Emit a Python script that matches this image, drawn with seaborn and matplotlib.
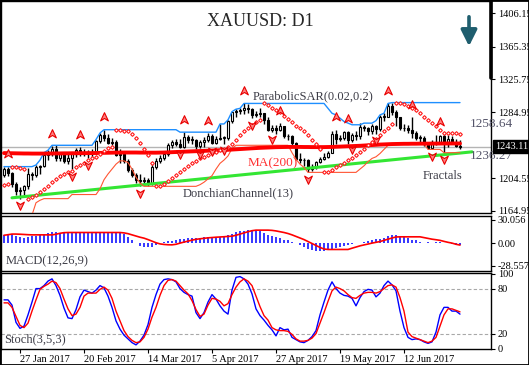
import numpy as np
import pandas as pd
import seaborn as sns
import matplotlib.pyplot as plt
from matplotlib.path import Path
from matplotlib.lines import Line2D
from matplotlib.patches import Rectangle
from matplotlib.transforms import blended_transform_factory

sns.set_style('white')
plt.rcParams['font.family'] = ['Liberation Serif', 'DejaVu Serif']

# daily bars, 23 Jan - 30 Jun 2017
dates = pd.bdate_range('2017-01-23', periods=115)

opens = [1209,1216,1211,1198,1189,1190,1195,1210,1209,1218,
         1220,1233,1236,1241,1229,1234,1226,1229,1234,1239,
         1236,1234,1237,1236,1250,1257,1254,1248,1249,1233,
         1234,1226,1215,1209,1203,1201,1203,1199,1219,1226,
         1229,1234,1245,1249,1247,1243,1255,1252,1252,1244,
         1249,1252,1256,1248,1253,1254,1254,1274,1285,1287,
         1288,1290,1289,1282,1283,1284,1276,1264,1266,1264,
         1268,1256,1256,1248,1228,1227,1227,1216,1219,1225,
         1228,1231,1236,1259,1253,1254,1261,1251,1258,1256,
         1267,1266,1262,1268,1265,1280,1280,1293,1286,1279,
         1266,1266,1264,1260,1254,1254,1246,1242,1247,1249,
         1256,1246,1253,1249,1244]
highs = [1218,1219,1212,1200,1194,1197,1217,1212,1221,1221,
         1236,1239,1244,1245,1237,1236,1234,1236,1242,1243,
         1240,1239,1241,1252,1260,1264,1259,1254,1251,1241,
         1237,1228,1217,1211,1210,1206,1205,1222,1230,1233,
         1236,1248,1252,1253,1253,1261,1258,1256,1253,1252,
         1255,1260,1259,1256,1271,1256,1276,1286,1289,1290,
         1296,1295,1291,1287,1290,1284,1279,1270,1270,1272,
         1268,1259,1258,1249,1235,1229,1228,1222,1226,1231,
         1236,1238,1262,1264,1258,1263,1262,1260,1262,1272,
         1270,1267,1271,1270,1282,1284,1296,1297,1288,1280,
         1271,1270,1279,1262,1257,1256,1249,1251,1257,1258,
         1259,1257,1256,1253,1251]
lows = [1206,1208,1194,1184,1180,1185,1192,1203,1206,1210,
        1219,1227,1232,1226,1226,1224,1222,1216,1231,1232,
        1232,1229,1231,1234,1248,1250,1246,1245,1232,1224,
        1223,1212,1206,1199,1195,1198,1195,1197,1216,1223,
        1227,1232,1242,1244,1242,1242,1248,1247,1241,1242,
        1243,1249,1246,1246,1251,1247,1252,1272,1280,1283,
        1283,1284,1278,1279,1280,1271,1262,1261,1259,1263,
        1254,1252,1245,1227,1223,1220,1212,1214,1216,1223,
        1227,1229,1235,1246,1250,1252,1247,1249,1251,1253,
        1263,1258,1259,1259,1262,1275,1279,1282,1268,1264,
        1262,1260,1254,1251,1249,1244,1241,1240,1245,1248,
        1236,1243,1246,1243,1240]
closes = [1216,1211,1198,1189,1190,1195,1210,1209,1218,1220,
          1233,1236,1241,1229,1234,1226,1229,1234,1239,1236,
          1234,1237,1236,1250,1257,1254,1248,1249,1233,1234,
          1226,1215,1209,1203,1201,1203,1199,1219,1226,1229,
          1234,1245,1249,1247,1243,1255,1252,1252,1244,1249,
          1252,1256,1248,1253,1254,1254,1274,1285,1287,1288,
          1290,1289,1282,1283,1284,1276,1264,1266,1264,1268,
          1256,1256,1248,1228,1227,1227,1216,1219,1225,1228,
          1231,1236,1259,1253,1254,1261,1251,1258,1256,1267,
          1266,1262,1268,1265,1280,1280,1293,1286,1279,1266,
          1266,1264,1260,1254,1254,1246,1242,1247,1249,1256,
          1246,1253,1249,1244,1243.11]

ma200 = [1235.5,1235.4,1235.3,1235.2,1235.1,1235.0,1235.0,1234.9,1234.9,1234.9,
         1234.9,1235.0,1235.0,1235.1,1235.1,1235.2,1235.2,1235.3,1235.3,1235.4,
         1235.4,1235.5,1235.5,1235.6,1235.7,1235.8,1235.9,1236.0,1236.1,1236.1,
         1236.2,1236.2,1236.2,1236.2,1236.1,1236.1,1236.0,1236.0,1236.0,1236.1,
         1236.2,1236.4,1236.6,1236.8,1237.0,1237.2,1237.4,1237.6,1237.8,1238.0,
         1238.2,1238.4,1238.6,1238.8,1239.0,1239.2,1239.5,1239.8,1240.1,1240.4,
         1240.7,1241.0,1241.3,1241.6,1241.9,1242.1,1242.3,1242.5,1242.7,1242.8,
         1242.9,1243.0,1243.0,1243.0,1243.0,1242.9,1242.9,1242.8,1242.8,1242.8,
         1242.8,1242.9,1243.0,1243.2,1243.4,1243.6,1243.8,1244.0,1244.2,1244.4,
         1244.7,1245.0,1245.3,1245.6,1245.9,1246.1,1246.3,1246.5,1246.6,1246.7,
         1246.8,1246.8,1246.9,1246.9,1247.0,1247.0,1247.0,1247.1,1247.1,1247.1,
         1247.2,1247.2,1247.2,1247.2,1247.2]

sar = [1197,1198,1219,1218,1217,1216,1180,1182,1185,1188,
       1192,1196,1200,1204,1207,1210,1212,1214,1218,1221,
       1224,1227,1229,1231,1234,1238,1242,1243,1264,1264,
       1263,1262,1259,1254,1248,1240,1233,1224,1195,1196,
       1198,1201,1205,1209,1213,1216,1220,1223,1226,1229,
       1231,1233,1235,1237,1239,1241,1243,1247,1252,1257,
       1262,1266,1270,1273,1276,1296,1294,1291,1288,1285,
       1281,1277,1273,1269,1266,1262,1257,1252,1246,1240,
       1212,1213,1215,1218,1221,1224,1227,1230,1233,1237,
       1241,1245,1249,1253,1257,1262,1266,1271,1297,1296,
       1295,1293,1291,1288,1284,1280,1276,1272,1268,1264,
       1260,1260,1260,1260,1259]

don_upper = ([1219] * 8 + [1221, 1227, 1236, 1239] + [1245] * 11 + [1252, 1260]
             + [1264] * 19 + [1261] * 10 + [1271, 1271, 1276, 1286, 1289, 1290]
             + [1296] * 21
             + [1290, 1284, 1282, 1278, 1274, 1272, 1270, 1270, 1270, 1272, 1272,
                1272, 1275, 1282, 1284, 1296]
             + [1297] * 18)
don_lower = ([1150] * 7 + [1160, 1175, 1178] + [1180] * 7 + [1185] * 7
             + [1192, 1203, 1210, 1216, 1222, 1226, 1226, 1224, 1216, 1206, 1199]
             + [1195] * 14 + [1197, 1200, 1204, 1208, 1216, 1223, 1227, 1232, 1241]
             + [1245] * 14 + [1236, 1228, 1222, 1218] + [1212] * 13
             + [1216, 1220, 1225, 1229, 1231, 1235, 1240, 1245]
             + [1247] * 9 + [1240] * 4 + [1236] * 5)

fractal_up = [1, 12, 19, 25, 45, 51, 60, 69, 83, 86, 96, 102, 109]
fractal_dn = [4, 17, 21, 34, 44, 49, 52, 55, 62, 67, 76, 87, 93, 107, 110]

trend_idx = [2, 117]
trend_val = [1181, 1237]

macd_hist = [11,11,12,10,8.5,7.6,8.5,9.3,10,11,
             12,13,14,14,13,14.5,14.8,15,15,15,
             15,15,15,15,15,15,14.8,14.5,14.2,13.5,
             12,8.5,4,1,-3,-4,-5,-4,-2,1,
             2,3.4,3.4,4.2,5.5,5.5,6.8,6.8,7.6,7.6,
             8.5,8.5,7.6,8.5,8.5,9.3,11,12.7,14,15.5,
             16.5,17,17,16,16,13.6,11.4,9.3,8.5,7.6,
             5,4.2,2,1,-2,-4.2,-6.4,-8.5,-9.3,-9.3,
             -9.3,-7.6,-6.8,-6,-4.2,-3.4,-2.5,-1,0,0.8,
             2,3.4,4.2,5.5,6,7.6,9.3,10.6,10.6,9.7,
             8.5,6.8,5,4.2,2.5,0,1.7,1,1.7,1.3,
             0.8,0,-1,-1.7,-2.5]
macd_sig = [10.5,11.2,12,12,11.8,11.5,11.2,11,11,11,
            11,11,11,11.8,13,13.8,14,14,14,14,
            14,14,14,14,14,14,14,14,14,14,
            13.5,12.5,11,9.5,8,6.8,5,3,1,-0.5,
            -1.2,-1.6,-1.7,-1,0.5,1.8,3,4.3,5.3,6,
            6.6,7.2,7.6,8,8.3,8.6,9,9.3,10.5,12,
            13.5,15,16.3,17,17,17,17,16.7,16,15,
            14,12.7,11,9,7,5,2.5,0,-2.5,-5,
            -7,-7.6,-7.6,-7.6,-7.6,-7.6,-7.6,-6,-4.5,-3,
            -1.8,-0.7,0.5,1.5,2.5,4,5.5,7,8.3,8.5,
            8.5,8.5,8.5,8.5,8.5,7.5,6.5,5.5,4.8,4,
            2.7,1.5,0.5,-1,-2]

stoch_k = [65,65,58,35,27,30,45,62,80,80,
           84,90,93,84,71,54,41,40,52,69,
           78,76,74,78,84,81,70,55,37,26,
           18,13,8,5,10,18,32,55,72,86,
           92,93,92,89,80,75,72,70,48,40,
           48,62,72,66,57,50,46,78,95,96,
           93,86,73,53,44,38,31,25,17,28,
           25,26,15,12,9,8,11,16,24,45,
           62,78,89,80,74,71,70,67,57,68,
           76,79,78,69,74,84,90,85,77,50,
           28,15,12,13,12,9,7,9,22,45,
           55,55,50,50,46]
stoch_d = [61,61,55,43,31,28,34,50,65,79,
           83,86,90,88,80,66,53,44,46,55,
           70,74,74,74,79,82,78,67,50,37,
           24,16,11,8,9,15,26,42,55,71,
           84,91,92,90,84,78,73,64,52,43,
           46,58,67,66,63,57,60,72,82,89,
           93,90,84,70,56,44,38,28,25,24,
           24,23,19,13,10,10,11,14,20,34,
           48,63,77,82,80,77,72,68,67,71,
           74,75,75,74,76,80,84,85,82,68,
           50,22,16,14,12,10,8,10,15,30,
           45,53,53,51,49]

price_ticks = [1406.15, 1365.35, 1325.75, 1284.95, 1204.55, 1164.95]
last_price = 1243.11
date_ticks = ['2017-01-27', '2017-02-20', '2017-03-14', '2017-04-05',
              '2017-04-27', '2017-05-19', '2017-06-12']
date_labels = ['27 Jan 2017', '20 Feb 2017', '14 Mar 2017', '5 Apr 2017',
               '27 Apr 2017', '19 May 2017', '12 Jun 2017']

W, H = 529, 365
fig = plt.figure(figsize=(W / 100, H / 100), dpi=100)


def panel(top, bottom):
    return fig.add_axes([1 / W, 1 - bottom / H, 490 / W, (bottom - top) / H])


ax1 = panel(1, 213)
ax2 = panel(216, 271)
ax3 = panel(273, 349)

x = np.arange(len(closes))
o = np.array(opens, float)
c = np.array(closes, float)
up = c >= o

# ---- price panel
ax1.axhline(last_price, color='#b4b4b4', lw=1, zorder=1)
ax1.vlines(x, lows, highs, color='black', lw=1, zorder=2)
ax1.bar(x, np.maximum(np.abs(c - o), 0.5), bottom=np.minimum(o, c), width=0.62,
        color=np.where(up, 'white', 'black'), edgecolor='black', lw=0.8, zorder=3)

sns.lineplot(x=trend_idx, y=trend_val, ax=ax1, color='#33e633', lw=2.2, zorder=4)
sns.lineplot(x=x, y=don_lower, ax=ax1, color='#ff5533', lw=0.8, zorder=4)
sns.lineplot(x=x, y=don_upper, ax=ax1, color='#1e8fff', lw=1.0, zorder=4)
sns.lineplot(x=x, y=ma200, ax=ax1, color='#ff0000', lw=2.8, zorder=5)
ax1.plot(x, sar, ls='none', marker='D', ms=1.9, mfc='white', mec='#ff1a1a',
         mew=0.8, zorder=6)

arrow_up = Path([(0, 1), (0.8, -0.7), (0, -0.2), (-0.8, -0.7), (0, 1)],
                [Path.MOVETO, Path.LINETO, Path.LINETO, Path.LINETO, Path.CLOSEPOLY])
arrow_dn = Path([(0, -1), (0.8, 0.7), (0, 0.2), (-0.8, 0.7), (0, -1)],
                [Path.MOVETO, Path.LINETO, Path.LINETO, Path.LINETO, Path.CLOSEPOLY])
hi = np.array(highs, float)
lo = np.array(lows, float)
ax1.scatter(fractal_up, hi[fractal_up] + 15, marker=arrow_up, s=48,
            facecolor='#ff8080', edgecolor='#e80000', lw=0.8, zorder=7)
ax1.scatter(fractal_dn, lo[fractal_dn] - 8, marker=arrow_dn, s=48,
            facecolor='#ff8080', edgecolor='#e80000', lw=0.8, zorder=7)

ax1.set_ylim(1162.5, 1420.8)
ax1.set_yticks(price_ticks)
ax1.set_yticklabels([f'{v:.2f}' for v in price_ticks])

tc = '#3c3c46'
ax1.text(62.25, 1305, 'ParabolicSAR(0.02,0.2)', fontsize=9, color=tc, va='center')
ax1.text(61, 1223, 'MA(200)', fontsize=9.5, color='#ff3030', va='center')
ax1.text(44.75, 1187, 'DonchianChannel(13)', fontsize=9, color=tc, va='center')
ax1.text(104.75, 1208, 'Fractals', fontsize=9, color=tc, va='center')
ax1.text(116.5, 1271, '1258.64', fontsize=9.5, color='#55556a', va='center', zorder=8)
ax1.text(116.5, 1232, '1236.27', fontsize=9.5, color='#55556a', va='center', zorder=8)
tr = blended_transform_factory(ax1.transAxes, ax1.transData)
ax1.text(1.008, last_price, f'{last_price:.2f}', transform=tr, ha='left', va='center',
         color='white', fontsize=7.5, zorder=10,
         bbox=dict(boxstyle='square,pad=0.18', fc='black', ec='black'))
fig.text(260 / W, 1 - 22 / H, 'XAUUSD: D1', fontsize=13, ha='center', va='center')
ax1.annotate('', xy=(469 / W, 1 - 49 / H), xytext=(469 / W, 1 - 14 / H),
             xycoords='figure fraction', textcoords='figure fraction',
             arrowprops=dict(arrowstyle='-|>,head_width=0.4,head_length=0.8',
                             color='#1f5e6e', lw=2.6, mutation_scale=12),
             annotation_clip=False)

# ---- MACD panel
ax2.vlines(x, 0, macd_hist, color='#0000ff', lw=1.1, zorder=2)
sns.lineplot(x=x, y=macd_sig, ax=ax2, color='#ff0000', lw=1.2, zorder=3)
ax2.set_ylim(-35, 35)
ax2.set_yticks([30.056, 0, -28.557])
ax2.set_yticklabels(['30.056', '0.00', '-28.557'])
ax2.text(0.3, -22, 'MACD(12,26,9)', fontsize=9, color=tc, va='center')

# ---- Stochastic panel
for lvl in (20, 80):
    ax3.axhline(lvl, color='#a8a8a8', lw=0.8, ls=(0, (3, 2)), zorder=1)
sns.lineplot(x=x, y=stoch_d, ax=ax3, color='#ff0000', lw=1.0, zorder=3)
sns.lineplot(x=x, y=stoch_k, ax=ax3, color='#0000ff', lw=1.0, zorder=2)
ax3.set_ylim(-0.5, 100.8)
ax3.set_yticks([100, 80, 20, 0])
ax3.set_yticklabels(['100', '80', '20', '0'])
ylabs = ax3.get_yticklabels()
ylabs[0].set_verticalalignment('top')
ylabs[3].set_verticalalignment('bottom')
ax3.text(0.0, 12, 'Stoch(3,5,3)', fontsize=9, color=tc, va='center')

tick_pos = [dates.get_loc(pd.Timestamp(d)) for d in date_ticks]
ax3.set_xticks(tick_pos)
ax3.set_xticklabels(date_labels, ha='left')

for ax in (ax1, ax2, ax3):
    ax.set_xlim(-0.75, 121.75)
    ax.set_xlabel('')
    ax.set_ylabel('')
    for s in ax.spines.values():
        s.set_color('black')
        s.set_linewidth(1)
    ax.tick_params(axis='y', left=False, right=True, labelleft=False, labelright=True,
                   length=3, width=0.8, labelsize=7.5, pad=2, colors='black')
    if ax is not ax3:
        ax.set_xticks([])
ax3.tick_params(axis='x', bottom=True, length=3, width=0.8, labelsize=7.5, pad=1,
                colors='black')

fig.add_artist(Line2D([491 / W, 491 / W], [1, 1 - 78 / H], color='black', lw=2.6))
fig.add_artist(Rectangle((0, 0), 1, 1, transform=fig.transFigure, fill=False,
                         ec='black', lw=2))

fig.savefig('out.png', dpi=100)
